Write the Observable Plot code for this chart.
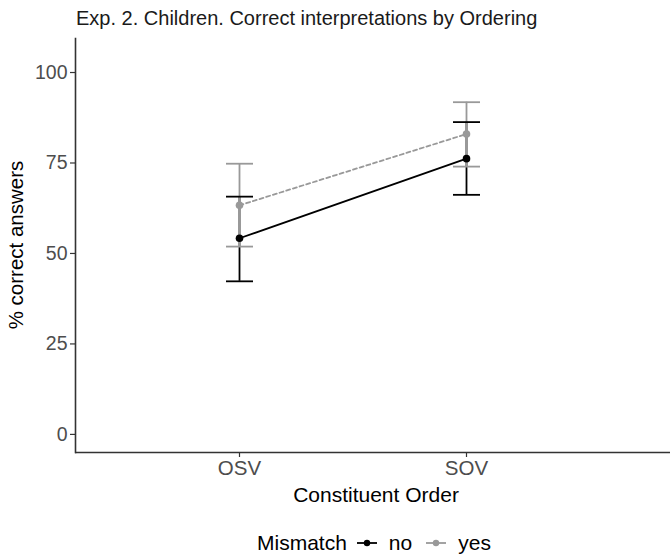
<!DOCTYPE html>
<html><head><meta charset="utf-8">
<script src="https://cdn.jsdelivr.net/npm/d3@7"></script>
<script src="https://cdn.jsdelivr.net/npm/@observablehq/plot@0.6"></script>
<style>
body{margin:0;background:#fff;font-family:"Liberation Sans",Arial,sans-serif;}
#wrap{position:relative;width:670px;height:554px;overflow:hidden;background:#fff;}
#wrap > svg{position:absolute;left:0;top:0;}
.t{position:absolute;white-space:nowrap;line-height:1;}
#legend{position:absolute;left:257px;top:532px;display:flex;align-items:center;font-size:21px;color:#000;line-height:1;}
#legend svg{position:static;}
</style></head><body>
<div id="wrap">
<div class="t" style="left:76px;top:8px;font-size:20px;color:#1a1a1a">Exp. 2. Children. Correct interpretations by Ordering</div>
<div class="t" style="left:16px;top:245px;font-size:20.5px;color:#000;transform:translate(-50%,-50%) rotate(-90deg);">% correct answers</div>
<div class="t" style="left:376px;top:484px;font-size:21px;color:#000;transform:translateX(-50%);">Constituent Order</div>
<div id="legend"></div>
</div>
<script>
const orders = ["OSV", "SOV"];
const mismatchLevels = ["no", "yes"];
const meanNo = [54.2, 76.2];
const lowNo = [42.3, 66.2];
const highNo = [65.7, 86.3];
const meanYes = [63.3, 83.0];
const lowYes = [51.9, 74.0];
const highYes = [74.8, 91.8];
const yTicks = [0, 25, 50, 75, 100];
const yDomain = [-5, 109.4];
const seriesColors = ["#000000", "#999999"];

const rows = [];
mismatchLevels.forEach((m) => {
  orders.forEach((o, i) => {
    rows.push(m === "no"
      ? {order: o, mismatch: m, mean: meanNo[i], low: lowNo[i], high: highNo[i]}
      : {order: o, mismatch: m, mean: meanYes[i], low: lowYes[i], high: highYes[i]});
  });
});

// horizontal cap symbol for error bars
const capHalf = 13.5;
const capSymbol = {draw(context) { context.moveTo(-capHalf, 0); context.lineTo(capHalf, 0); }};

const font = "'Liberation Sans', Arial, sans-serif";
const chart = Plot.plot({
  width: 670, height: 554,
  marginLeft: 75, marginRight: 0, marginTop: 38, marginBottom: 102,
  style: {fontFamily: font, fontSize: "19px", background: "transparent", overflow: "visible"},
  x: {type: "point", domain: orders, padding: 0.81, align: 0.446, label: null},
  y: {domain: yDomain, label: null},
  color: {domain: mismatchLevels, range: seriesColors},
  marks: [
    Plot.ruleX(rows, {x: "order", y1: "low", y2: "high", stroke: "mismatch", strokeWidth: 1.8}),
    Plot.dot(rows, {x: "order", y: "low", symbol: capSymbol, fill: "none", stroke: "mismatch", strokeWidth: 1.8}),
    Plot.dot(rows, {x: "order", y: "high", symbol: capSymbol, fill: "none", stroke: "mismatch", strokeWidth: 1.8}),
    Plot.line(rows.filter(d => d.mismatch === "no"), {x: "order", y: "mean", stroke: "mismatch", strokeWidth: 1.8}),
    Plot.line(rows.filter(d => d.mismatch === "yes"), {x: "order", y: "mean", stroke: "mismatch", strokeWidth: 1.8, strokeDasharray: "4,3"}),
    Plot.dot(rows, {x: "order", y: "mean", fill: "mismatch", r: 3.8}),
    Plot.axisY({ticks: yTicks, tickSize: 5, tickPadding: 3, fill: "#4d4d4d", stroke: "#333", strokeWidth: 1.2, fontSize: 19.5, label: null}),
    Plot.axisX({tickSize: 5, tickPadding: 3, fill: "#4d4d4d", stroke: "#333", strokeWidth: 1.2, fontSize: 20.5, label: null}),
    Plot.ruleY([yDomain[0]], {stroke: "#333", strokeWidth: 1.6}),
    Plot.frame({anchor: "left", stroke: "#333", strokeWidth: 1.6})
  ]
});
document.getElementById("wrap").prepend(chart);

// legend
const legend = document.getElementById("legend");
const lab = document.createElement("span");
lab.textContent = "Mismatch";
lab.style.marginRight = "8px";
legend.appendChild(lab);
mismatchLevels.forEach((m, i) => {
  const ns = "http://www.w3.org/2000/svg";
  const s = document.createElementNS(ns, "svg");
  s.setAttribute("width", 24); s.setAttribute("height", 14);
  s.style.marginRight = "10px";
  const ln = document.createElementNS(ns, "line");
  ln.setAttribute("x1", 2); ln.setAttribute("x2", 22); ln.setAttribute("y1", 7); ln.setAttribute("y2", 7);
  ln.setAttribute("stroke", seriesColors[i]); ln.setAttribute("stroke-width", 1.8);
  const c = document.createElementNS(ns, "circle");
  c.setAttribute("cx", 12); c.setAttribute("cy", 7); c.setAttribute("r", 3.2); c.setAttribute("fill", seriesColors[i]);
  s.appendChild(ln); s.appendChild(c);
  legend.appendChild(s);
  const t = document.createElement("span");
  t.textContent = m;
  t.style.marginRight = "12px";
  legend.appendChild(t);
});
</script>
</body></html>
